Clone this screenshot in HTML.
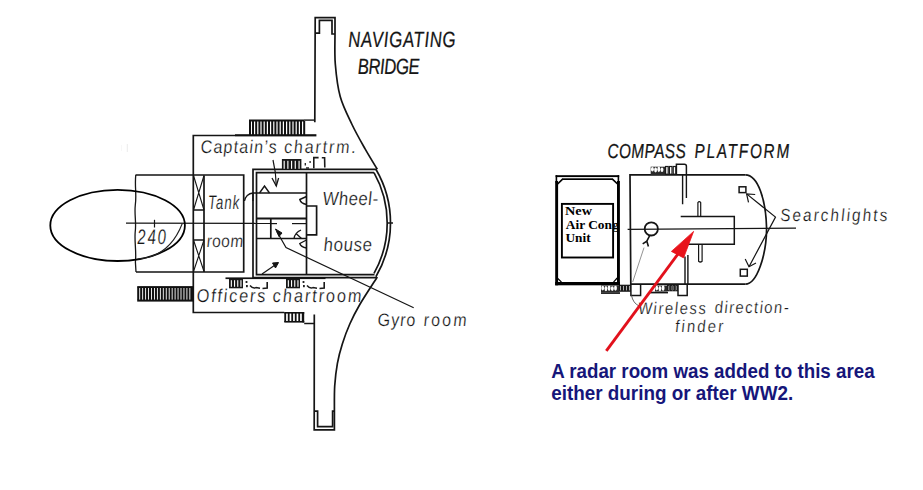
<!DOCTYPE html>
<html><head><meta charset="utf-8"><style>
html,body{margin:0;padding:0;background:#fff;}
svg{display:block;}
</style></head><body>
<svg width="923" height="490" viewBox="0 0 923 490">
<defs><clipPath id="gclip"><rect x="612" y="215" width="2.2" height="20"/></clipPath></defs>
<rect width="923" height="490" fill="#fff"/>
<line x1="127.3" y1="144" x2="127.3" y2="152" stroke="#dedede" stroke-width="0.6"/>
<line x1="121.5" y1="145" x2="121.5" y2="151" stroke="#eeeeee" stroke-width="0.5"/>
<path d="M314.8,122.2 L315.2,17.7 L335,17.7 L335,34" stroke="#151515" stroke-width="1.7" fill="none"/>
<path d="M315.2,33.2 L319.4,33.2 L319.4,20.4 L332,20.4 L332,34 L335,34" stroke="#151515" stroke-width="1.7" fill="none"/>
<path d="M314.3,314.6 L314.2,429.8 L334.4,429.8 L334.4,411" stroke="#151515" stroke-width="1.7" fill="none"/>
<path d="M314.2,411.1 L317.6,411.1 L317.6,426.7 L332.6,426.7 L332.6,411.1 L334.4,411.1" stroke="#151515" stroke-width="1.7" fill="none"/>
<path d="M335,34 C335.05,39.00 334.43,53.57 335.3,64 C336.17,74.43 337.42,86.52 340.2,96.6 C342.98,106.68 347.85,115.78 352,124.5 C356.15,133.22 360.88,141.43 365.1,148.9 C369.32,156.37 375.27,165.90 377.3,169.3" stroke="#151515" stroke-width="1.7" fill="none"/>
<path d="M377.3,277 C374.38,281.58 364.38,296.67 359.8,304.5 C355.22,312.33 352.70,317.47 349.8,324 C346.90,330.53 344.47,337.15 342.4,343.7 C340.33,350.25 338.68,356.25 337.4,363.3 C336.12,370.35 335.20,378.05 334.7,386 C334.20,393.95 334.45,406.83 334.4,411" stroke="#151515" stroke-width="1.7" fill="none"/>
<path d="M375.9,169.3 A106.1,106.1 0 0 1 375.9,276.7" stroke="#151515" stroke-width="1.7" fill="none"/>
<path d="M374,172.6 A102.8,102.8 0 0 1 374,273.4" stroke="#151515" stroke-width="1.7" fill="none"/>
<line x1="388" y1="223" x2="393" y2="223" stroke="#151515" stroke-width="1.5"/>
<path d="M376,169.3 L253,169.3 L253,277.6 L376.5,277.6" stroke="#151515" stroke-width="1.7" fill="none"/>
<path d="M374,172.6 L256.5,172.6 L256.5,274.6 L374.5,274.6" stroke="#151515" stroke-width="1.7" fill="none"/>
<rect x="249" y="119.5" width="55" height="2.0" fill="#111"/>
<path d="M304,120.1 L315,120.1" stroke="#151515" stroke-width="1.4" fill="none"/>
<rect x="249" y="121" width="2" height="14" fill="#111"/>
<rect x="252.0" y="121" width="2.0" height="14" fill="#111"/>
<rect x="255.2" y="121" width="2.0" height="14" fill="#111"/>
<rect x="258.4" y="121" width="2.0" height="14" fill="#111"/>
<rect x="261.6" y="121" width="2.0" height="14" fill="#111"/>
<rect x="264.8" y="121" width="2.0" height="14" fill="#111"/>
<rect x="268.0" y="121" width="2.0" height="14" fill="#111"/>
<rect x="271.2" y="121" width="2.0" height="14" fill="#111"/>
<rect x="274.4" y="121" width="2.0" height="14" fill="#111"/>
<rect x="277.6" y="121" width="2.0" height="14" fill="#111"/>
<rect x="280.8" y="121" width="2.0" height="14" fill="#111"/>
<rect x="284.0" y="121" width="2.0" height="14" fill="#111"/>
<rect x="287.2" y="121" width="2.0" height="14" fill="#111"/>
<rect x="290.4" y="121" width="2.0" height="14" fill="#111"/>
<rect x="293.6" y="121" width="2.0" height="14" fill="#111"/>
<rect x="296.8" y="121" width="2.0" height="14" fill="#111"/>
<rect x="300.0" y="121" width="2.0" height="14" fill="#111"/>
<rect x="303.2" y="121" width="2.0" height="14" fill="#111"/>
<rect x="235" y="134.2" width="81.4" height="2.2" fill="#111"/>
<path d="M235,135.5 L193.3,135.5 L193.3,312.5 L284.3,312.5" stroke="#151515" stroke-width="1.7" fill="none"/>
<path d="M135.5,175 L243.7,175 L243.7,272 L136,272" stroke="#151515" stroke-width="1.7" fill="none"/>
<path d="M135.8,175 C134.5,185 136.8,195 135.3,205 C134.2,215 136.5,222 135.2,232 C134.3,242 136.6,252 135.4,262 L136,272" stroke="#151515" stroke-width="1.3" fill="none"/>
<path d="M204,175.5 L204,272" stroke="#151515" stroke-width="1.7" fill="none"/>
<path d="M193.5,210 L204,210 M193.5,240 L204,240" stroke="#151515" stroke-width="1.7" fill="none"/>
<path d="M193.5,175.5 L204,210 M204,175.5 L193.5,210 M193.5,240 L204,271.5 M204,240 L193.5,271.5" stroke="#151515" stroke-width="1.1" fill="none"/>
<line x1="126" y1="223.2" x2="271" y2="223.4" stroke="#151515" stroke-width="1.2"/>
<line x1="271" y1="223.6" x2="277" y2="223.6" stroke="#151515" stroke-width="1.2"/>
<line x1="292" y1="223.6" x2="307" y2="223.6" stroke="#151515" stroke-width="1.2"/>
<line x1="154.5" y1="219.8" x2="154.5" y2="227.5" stroke="#151515" stroke-width="1.2"/>
<ellipse cx="117.6" cy="225.4" rx="67.3" ry="35.6" stroke="#000" stroke-width="1.8" fill="none"/>
<path d="M137.5,259 C155,258 172,250 182.3,223.5" stroke="#222" stroke-width="1.1" fill="none"/>
<rect x="137.2" y="286.1" width="56.1" height="1.9" fill="#111"/>
<rect x="137.2" y="299.6" width="56.1" height="2.0" fill="#111"/>
<rect x="137.2" y="287.5" width="2.05" height="12.5" fill="#111"/>
<rect x="140.14999999999998" y="287.5" width="2.05" height="12.5" fill="#111"/>
<rect x="143.1" y="287.5" width="2.05" height="12.5" fill="#111"/>
<rect x="146.04999999999998" y="287.5" width="2.05" height="12.5" fill="#111"/>
<rect x="149.0" y="287.5" width="2.05" height="12.5" fill="#111"/>
<rect x="151.95" y="287.5" width="2.05" height="12.5" fill="#111"/>
<rect x="154.89999999999998" y="287.5" width="2.05" height="12.5" fill="#111"/>
<rect x="157.85" y="287.5" width="2.05" height="12.5" fill="#111"/>
<rect x="160.79999999999998" y="287.5" width="2.05" height="12.5" fill="#111"/>
<rect x="163.75" y="287.5" width="2.05" height="12.5" fill="#111"/>
<rect x="166.7" y="287.5" width="2.05" height="12.5" fill="#111"/>
<rect x="169.64999999999998" y="287.5" width="2.05" height="12.5" fill="#111"/>
<rect x="172.6" y="287.5" width="2.05" height="12.5" fill="#111"/>
<rect x="175.54999999999998" y="287.5" width="2.05" height="12.5" fill="#111"/>
<rect x="178.5" y="287.5" width="2.05" height="12.5" fill="#111"/>
<rect x="181.45" y="287.5" width="2.05" height="12.5" fill="#111"/>
<rect x="184.39999999999998" y="287.5" width="2.05" height="12.5" fill="#111"/>
<rect x="187.35" y="287.5" width="2.05" height="12.5" fill="#111"/>
<rect x="190.29999999999998" y="287.5" width="2.05" height="12.5" fill="#111"/>
<rect x="191.2" y="287.5" width="2.1" height="12.5" fill="#111"/>
<path d="M253,193 L306.5,193" stroke="#151515" stroke-width="1.7" fill="none"/>
<path d="M306.5,172.6 L306.5,274.6" stroke="#151515" stroke-width="1.7" fill="none"/>
<path d="M306.5,206 L316.6,206 L316.6,234.8 L306.5,234.8" stroke="#151515" stroke-width="1.7" fill="none"/>
<path d="M256.6,218.5 L306.5,218.5" stroke="#151515" stroke-width="2.0" fill="none"/>
<path d="M270.8,218.5 L270.8,238.5" stroke="#151515" stroke-width="1.7" fill="none"/>
<path d="M256.6,238.5 L306.5,238.5" stroke="#151515" stroke-width="1.7" fill="none"/>
<rect x="281.9" y="159.0" width="19.5" height="10.2" fill="#181818"/>
<rect x="283.6" y="160.8" width="1.15" height="8.0" fill="#fff"/>
<rect x="287.3" y="160.8" width="1.15" height="8.0" fill="#fff"/>
<rect x="291.0" y="160.8" width="1.15" height="8.0" fill="#fff"/>
<rect x="294.7" y="160.8" width="1.15" height="8.0" fill="#fff"/>
<rect x="298.5" y="160.8" width="1.15" height="8.0" fill="#fff"/>
<path d="M305.3,163 L305.3,165.5 M310.1,161 L310.1,163 M306,168 L309,168" stroke="#222" stroke-width="1.3" fill="none"/>
<path d="M318.6,157.6 L313.8,157.6 L313.8,168.2 M321.8,157.8 L324.6,157.8 L324.8,167.5" stroke="#1a1a1a" stroke-width="1.6" fill="none"/>
<rect x="229.0" y="278.5" width="14" height="9.8" fill="#181818"/>
<rect x="230.8" y="280.2" width="1.1" height="6.6" fill="#fff"/>
<rect x="234.0" y="280.2" width="1.1" height="6.6" fill="#fff"/>
<rect x="237.20000000000002" y="280.2" width="1.1" height="6.6" fill="#fff"/>
<rect x="240.4" y="280.2" width="1.1" height="6.6" fill="#fff"/>
<rect x="245.6" y="281" width="1.8" height="2" fill="#222"/>
<rect x="246.0" y="285" width="1.8" height="2.2" fill="#222"/>
<path d="M250.0,285.5 Q253.0,289 256.0,287.6 L260.0,288.3" stroke="#1a1a1a" stroke-width="1.5" fill="none"/>
<path d="M262.5,288.5 L267.2,288.1 L267.2,282" stroke="#1a1a1a" stroke-width="1.6" fill="none"/>
<rect x="286.0" y="278.5" width="14" height="9.8" fill="#181818"/>
<rect x="287.8" y="280.2" width="1.1" height="6.6" fill="#fff"/>
<rect x="291.0" y="280.2" width="1.1" height="6.6" fill="#fff"/>
<rect x="294.2" y="280.2" width="1.1" height="6.6" fill="#fff"/>
<rect x="297.40000000000003" y="280.2" width="1.1" height="6.6" fill="#fff"/>
<rect x="302.6" y="281" width="1.8" height="2" fill="#222"/>
<rect x="303.0" y="285" width="1.8" height="2.2" fill="#222"/>
<path d="M307.0,285.5 Q310.0,289 313.0,287.6 L317.0,288.3" stroke="#1a1a1a" stroke-width="1.5" fill="none"/>
<path d="M319.5,288.5 L324.2,288.1 L324.2,282" stroke="#1a1a1a" stroke-width="1.6" fill="none"/>
<rect x="225.5" y="277.4" width="100" height="1.7" fill="#111"/>
<rect x="284.3" y="312" width="20" height="1.6" fill="#111"/>
<rect x="284.3" y="321" width="20" height="1.6" fill="#111"/>
<rect x="284.3" y="312.5" width="1.8" height="9.5" fill="#111"/>
<rect x="287.8" y="312.5" width="1.8" height="9.5" fill="#111"/>
<rect x="291.3" y="312.5" width="1.8" height="9.5" fill="#111"/>
<rect x="294.8" y="312.5" width="1.8" height="9.5" fill="#111"/>
<rect x="298.3" y="312.5" width="1.8" height="9.5" fill="#111"/>
<rect x="301.8" y="312.5" width="1.8" height="9.5" fill="#111"/>
<rect x="302.4" y="312.5" width="1.8" height="10" fill="#111"/>
<path d="M304.2,323.5 L314.4,323.5" stroke="#151515" stroke-width="1.5" fill="none"/>
<path d="M259.5,193 L264.5,186 L269.5,193" stroke="#151515" stroke-width="1.4" fill="none"/>
<path d="M244.5,201 A9,9 0 0 1 253,193 L253,201" stroke="#151515" stroke-width="1.3" fill="none"/>
<path d="M306.5,196.5 L299.8,199.5 Q300.8,203.5 306.5,204.5" stroke="#151515" stroke-width="1.4" fill="none"/>
<path d="M294,238.5 Q295,232.5 301,230 M296,233.5 L301.5,238.5" stroke="#151515" stroke-width="1.3" fill="none"/>
<path d="M306.5,240 L299.8,243.5 Q300.8,247 306.5,248" stroke="#151515" stroke-width="1.4" fill="none"/>
<path d="M273,160 Q276,172 276.3,186" stroke="#151515" stroke-width="1.2" fill="none"/>
<path d="M272,178 L276.3,186 L278.6,178" stroke="#151515" stroke-width="1.3" fill="none"/>
<path d="M262,274 L278,263" stroke="#151515" stroke-width="1.2" fill="none"/>
<path d="M272.5,263 L278.5,262.5 L275.5,268 Z" stroke="#151515" stroke-width="1.0" fill="#151515"/>
<path d="M277,231.7 L286,247.6 L413.7,307.7" stroke="#151515" stroke-width="1.2" fill="none"/>
<path d="M275.5,229 L279,236.5 L282,233 Z" stroke="#151515" stroke-width="1.0" fill="#151515"/>
<text stroke="#151515" stroke-width="0.25" transform="matrix(0.76,0,0.0416,1,348.6,46.5)" x="0" y="0" font-family="Liberation Sans" font-size="22" font-style="italic" fill="#151515" textLength="141.05" lengthAdjust="spacing">NAVIGATING</text>
<text stroke="#151515" stroke-width="0.25" transform="matrix(0.76,0,0.0416,1,358.0,73.8)" x="0" y="0" font-family="Liberation Sans" font-size="22" font-style="italic" fill="#151515" textLength="81.58" lengthAdjust="spacing">BRIDGE</text>
<text stroke="#fff" stroke-width="0.2" transform="matrix(0.88,0,0.0671,1,201.0,153.4)" x="0" y="0" font-family="Liberation Sans" font-size="18.2" font-style="italic" fill="#151515" textLength="86.36" lengthAdjust="spacing">Captain’s</text>
<text stroke="#fff" stroke-width="0.2" transform="matrix(0.88,0,0.0671,1,284.4,153.4)" x="0" y="0" font-family="Liberation Sans" font-size="18.2" font-style="italic" fill="#151515" textLength="81.48" lengthAdjust="spacing">chartrm.</text>
<text stroke="#fff" stroke-width="0.2" transform="matrix(0.68,0,0.0246,1,208.2,208.6)" x="0" y="0" font-family="Liberation Sans" font-size="19.5" font-style="italic" fill="#151515" textLength="46.03" lengthAdjust="spacing">Tank</text>
<text stroke="#fff" stroke-width="0.2" transform="matrix(0.88,0,0.0671,1,207.0,247.1)" x="0" y="0" font-family="Liberation Sans" font-size="17.5" font-style="italic" fill="#151515" textLength="41.48" lengthAdjust="spacing">room</text>
<text stroke="#fff" stroke-width="0.2" transform="matrix(0.88,0,0.0671,1,323.0,205.1)" x="0" y="0" font-family="Liberation Sans" font-size="19" font-style="italic" fill="#151515" textLength="62.84" lengthAdjust="spacing">Wheel-</text>
<text stroke="#fff" stroke-width="0.2" transform="matrix(0.88,0,0.0671,1,323.9,250.6)" x="0" y="0" font-family="Liberation Sans" font-size="19" font-style="italic" fill="#151515" textLength="55.00" lengthAdjust="spacing">house</text>
<text stroke="#fff" stroke-width="0.2" transform="matrix(0.72,0,0.0331,1,137.6,244.3)" x="0" y="0" font-family="Liberation Sans" font-size="21" font-style="italic" fill="#151515" textLength="39.58" lengthAdjust="spacing">240</text>
<text stroke="#fff" stroke-width="0.2" transform="matrix(0.88,0,0.0671,1,197.0,302.4)" x="0" y="0" font-family="Liberation Sans" font-size="18.5" font-style="italic" fill="#151515" textLength="77.95" lengthAdjust="spacing">Officers</text>
<text stroke="#fff" stroke-width="0.2" transform="matrix(0.88,0,0.0671,1,273.1,302.4)" x="0" y="0" font-family="Liberation Sans" font-size="18.5" font-style="italic" fill="#151515" textLength="100.91" lengthAdjust="spacing">chartroom</text>
<text stroke="#fff" stroke-width="0.2" transform="matrix(0.88,0,0.0671,1,378.0,326.1)" x="0" y="0" font-family="Liberation Sans" font-size="18" font-style="italic" fill="#151515" textLength="42.73" lengthAdjust="spacing">Gyro</text>
<text stroke="#fff" stroke-width="0.2" transform="matrix(0.88,0,0.0671,1,424.0,326.1)" x="0" y="0" font-family="Liberation Sans" font-size="18" font-style="italic" fill="#151515" textLength="48.75" lengthAdjust="spacing">room</text>
<text stroke="#151515" stroke-width="0.25" transform="matrix(0.76,0,0.0416,1,607.7,157.7)" x="0" y="0" font-family="Liberation Sans" font-size="20.2" font-style="italic" fill="#151515" textLength="103.03" lengthAdjust="spacing">COMPASS</text>
<text stroke="#151515" stroke-width="0.25" transform="matrix(0.76,0,0.0416,1,694.8,157.7)" x="0" y="0" font-family="Liberation Sans" font-size="20.2" font-style="italic" fill="#151515" textLength="124.61" lengthAdjust="spacing">PLATFORM</text>
<text stroke="#fff" stroke-width="0.2" transform="matrix(0.88,0,0.0671,1,780.4,220.8)" x="0" y="0" font-family="Liberation Sans" font-size="17.5" font-style="italic" fill="#151515" textLength="121.82" lengthAdjust="spacing">Searchlights</text>
<text stroke="#fff" stroke-width="0.2" transform="matrix(0.88,0,0.0671,1,638.4,313.6)" x="0" y="0" font-family="Liberation Sans" font-size="16.8" font-style="italic" fill="#151515" textLength="76.93" lengthAdjust="spacing">Wireless</text>
<text stroke="#fff" stroke-width="0.2" transform="matrix(0.88,0,0.0671,1,715.0,313.4)" x="0" y="0" font-family="Liberation Sans" font-size="16.8" font-style="italic" fill="#151515" textLength="83.98" lengthAdjust="spacing">direction-</text>
<text stroke="#fff" stroke-width="0.2" transform="matrix(0.88,0,0.0671,1,675.5,332.4)" x="0" y="0" font-family="Liberation Sans" font-size="17" font-style="italic" fill="#151515" textLength="54.43" lengthAdjust="spacing">finder</text>
<path d="M745.4,174.9 L630,174.9 L630.8,284.2 L745.4,284.2" stroke="#151515" stroke-width="1.7" fill="none"/>
<path d="M745.4,174.9 C758,175 766,200 766.6,228.5 C766.4,255 757,284.2 745.4,284.2" stroke="#151515" stroke-width="1.7" fill="none"/>
<line x1="627.6" y1="229.4" x2="796" y2="228.2" stroke="#151515" stroke-width="1.2"/>
<path d="M680.7,216.6 L734.3,216.6 L734.3,244.3 L684.7,244.3" stroke="#151515" stroke-width="1.5" fill="none"/>
<path d="M697.9,216.4 L697.9,202.5 Q699.3,200.6 700.7,202.5 L700.7,216.4" stroke="#151515" stroke-width="1.2" fill="none"/>
<path d="M698.6,244.3 L698.6,261.2 Q700.3,262.8 702.1,261.2 L702.1,244.3" stroke="#151515" stroke-width="1.2" fill="none"/>
<circle cx="651.3" cy="228.9" r="6.6" stroke="#151515" stroke-width="1.8" fill="none"/>
<path d="M649.7,235.6 L646.8,241.1 L642.7,243.9 M646.8,241.1 L648.4,246.4" stroke="#151515" stroke-width="1.6" fill="none"/>
<path d="M644,247.6 L632.7,282" stroke="#777" stroke-width="0.8" fill="none"/>
<path d="M682.6,175 L682.6,204.3 M686.4,175 L686.4,197.9" stroke="#151515" stroke-width="1.4" fill="none"/>
<path d="M685,256.4 L685,284 M687.9,255 L687.9,284" stroke="#151515" stroke-width="1.4" fill="none"/>
<path d="M676.4,175 L676.4,164.3 L684.4,164.3 Q686.4,164.3 686.4,166.3 L686.4,175" stroke="#151515" stroke-width="1.5" fill="none"/>
<rect x="650.7" y="166.7" width="14.299999999999955" height="8.300000000000011" fill="#2a2a2a"/>
<ellipse cx="652.4000000000001" cy="169.29999999999998" rx="1.45" ry="2.3" fill="#fff"/>
<ellipse cx="655.6000000000001" cy="169.79999999999998" rx="1.45" ry="2.5999999999999996" fill="#fff"/>
<ellipse cx="658.8000000000001" cy="169.29999999999998" rx="1.45" ry="2.9" fill="#fff"/>
<ellipse cx="662.0000000000001" cy="169.79999999999998" rx="1.45" ry="2.3" fill="#fff"/>
<rect x="665.6" y="166.5" width="2.6" height="7.700000000000012" stroke="#1a1a1a" stroke-width="1.2" fill="none"/>
<rect x="669.4" y="166.5" width="2.6" height="7.700000000000012" stroke="#1a1a1a" stroke-width="1.2" fill="none"/>
<rect x="673.2" y="166.5" width="2.6" height="7.700000000000012" stroke="#1a1a1a" stroke-width="1.2" fill="none"/>
<path d="M630.9,284.8 L630.9,295.6 L640.6,295.6 L640.6,284.8" stroke="#151515" stroke-width="1.5" fill="none"/>
<path d="M678,284.8 L678,295.6 L687.2,295.6 L687.2,284.8" stroke="#151515" stroke-width="1.5" fill="none"/>
<rect x="601" y="285.5" width="18" height="6.5" fill="#2a2a2a"/>
<ellipse cx="602.7" cy="288.1" rx="1.45" ry="2.3" fill="#fff"/>
<ellipse cx="605.9000000000001" cy="288.6" rx="1.45" ry="2.5999999999999996" fill="#fff"/>
<ellipse cx="609.1" cy="288.1" rx="1.45" ry="2.9" fill="#fff"/>
<ellipse cx="612.3000000000001" cy="288.6" rx="1.45" ry="2.3" fill="#fff"/>
<ellipse cx="615.5" cy="288.1" rx="1.45" ry="2.5999999999999996" fill="#fff"/>
<rect x="619.6" y="285.3" width="1.8" height="5.9" stroke="#1a1a1a" stroke-width="1.2" fill="none"/>
<rect x="622.6" y="285.3" width="1.8" height="5.9" stroke="#1a1a1a" stroke-width="1.2" fill="none"/>
<rect x="625.6" y="285.3" width="1.8" height="5.9" stroke="#1a1a1a" stroke-width="1.2" fill="none"/>
<rect x="628.6" y="285.3" width="1.8" height="5.9" stroke="#1a1a1a" stroke-width="1.2" fill="none"/>
<rect x="601" y="292.2" width="19" height="1.7" fill="#151515"/>
<rect x="655" y="285.5" width="12" height="6.0" fill="#2a2a2a"/>
<ellipse cx="656.7" cy="288.1" rx="1.45" ry="2.3" fill="#fff"/>
<ellipse cx="659.9000000000001" cy="288.6" rx="1.45" ry="2.5999999999999996" fill="#fff"/>
<ellipse cx="663.1" cy="288.1" rx="1.45" ry="2.9" fill="#fff"/>
<rect x="667.6" y="285.3" width="1.55" height="5.4" stroke="#1a1a1a" stroke-width="1.2" fill="none"/>
<rect x="670.35" y="285.3" width="1.55" height="5.4" stroke="#1a1a1a" stroke-width="1.2" fill="none"/>
<rect x="673.1" y="285.3" width="1.55" height="5.4" stroke="#1a1a1a" stroke-width="1.2" fill="none"/>
<rect x="675.85" y="285.3" width="1.55" height="5.4" stroke="#1a1a1a" stroke-width="1.2" fill="none"/>
<rect x="650" y="291.7" width="18" height="1.7" fill="#151515"/>
<path d="M631.5,295.5 Q633,303 639,306" stroke="#555" stroke-width="0.9" fill="none"/>
<rect x="739.1" y="186.8" width="6.8" height="5.8" stroke="#151515" stroke-width="1.5" fill="none"/>
<rect x="740.3" y="269.3" width="7.0" height="6.8" stroke="#151515" stroke-width="1.5" fill="none"/>
<path d="M746.6,193.9 L775.5,217.1 L749,266.7" stroke="#151515" stroke-width="1.2" fill="none"/>
<path d="M755.2,194.5 L746.6,193.9 L748.5,202.4" stroke="#151515" stroke-width="1.2" fill="none"/>
<path d="M745.2,259 L749,266.7 L756,263" stroke="#151515" stroke-width="1.2" fill="none"/>
<rect x="555.2" y="181" width="2.9" height="104.3" fill="#000"/>
<rect x="617" y="181" width="2.9" height="104.3" fill="#000"/>
<rect x="555.2" y="282" width="64.7" height="3.3" fill="#000"/>
<rect x="555.6" y="175.2" width="63.6" height="1.9" fill="#000"/>
<rect x="555.6" y="175.2" width="1.6" height="8" fill="#000"/>
<rect x="617.6" y="175.2" width="1.6" height="8" fill="#000"/>
<rect x="562" y="178.3" width="51" height="1.7" fill="#000"/>
<path d="M562.6,179.1 L557.6,184 M612.4,179.1 L617.6,184" stroke="#000" stroke-width="1.7" fill="none"/>
<path d="M557.8,278.5 L561.5,282.2 M617.2,278 L613.5,282.2" stroke="#000" stroke-width="1.2" fill="none"/>
<rect x="561.9" y="203.9" width="51.2" height="53.6" stroke="#000" stroke-width="1.9" fill="none"/>
<text x="565" y="214.9" font-family="Liberation Serif" font-size="12.5" font-style="normal" font-weight="bold" fill="#000" textLength="27" lengthAdjust="spacingAndGlyphs" >New</text>
<text x="565.8" y="228.6" font-family="Liberation Serif" font-size="12.5" font-style="normal" font-weight="bold" fill="#000" textLength="46.2" lengthAdjust="spacingAndGlyphs" >Air Con</text>
<text x="565.4" y="242.4" font-family="Liberation Serif" font-size="12.5" font-style="normal" font-weight="bold" fill="#000" textLength="25.2" lengthAdjust="spacingAndGlyphs" >Unit</text>
<text x="612.6" y="228.6" font-family="Liberation Serif" font-size="12.5" font-style="normal" font-weight="bold" fill="#000" >g</text>
<path d="M606.3,350.8 L678,254" stroke="#e2111c" stroke-width="2.9" fill="none"/>
<path d="M693.6,231.4 L671.4,251.4 L683.6,257.9 Z" stroke="#e8131b" stroke-width="0.8" fill="#e8131b"/>
<text x="551.2" y="377.7" font-family="Liberation Sans" font-size="19.4" font-style="normal" font-weight="bold" fill="#16167a" textLength="323.4" lengthAdjust="spacingAndGlyphs" >A radar room was added to this area</text>
<text x="551.2" y="399.7" font-family="Liberation Sans" font-size="19.4" font-style="normal" font-weight="bold" fill="#16167a" textLength="242.0" lengthAdjust="spacingAndGlyphs" >either during or after WW2.</text>
</svg>
</body></html>
